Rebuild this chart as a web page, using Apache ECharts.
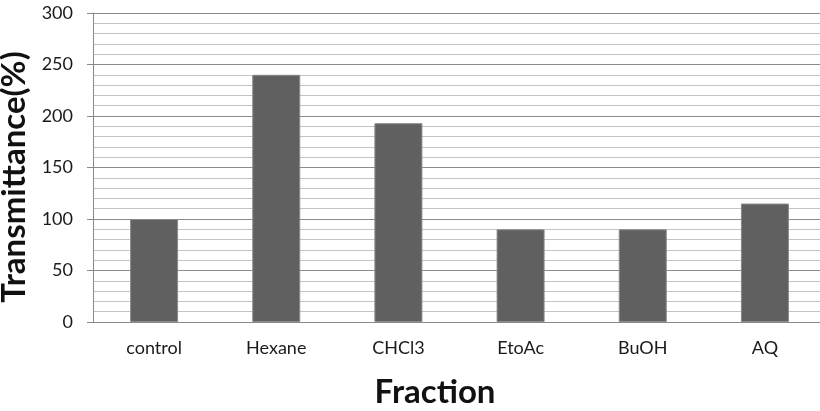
<!DOCTYPE html>
<html>
<head>
<meta charset="utf-8">
<script src="https://cdn.jsdelivr.net/npm/echarts@6/dist/echarts.min.js"></script>
<style>
  html, body { margin: 0; padding: 0; background: #ffffff; }
  #chart { width: 820px; height: 411px; }
</style>
</head>
<body>
<div id="chart"></div>
<script>
// Fractions tested and their transmittance (%)
const fractions = ['control', 'Hexane', 'CHCl3', 'EtoAc', 'BuOH', 'AQ'];
const transmittance = [100, 240, 193, 90, 90, 115];
const yTicks = [0, 50, 100, 150, 200, 250, 300];

const chart = echarts.init(document.getElementById('chart'), null, { renderer: 'canvas' });

const fontFamily = 'Lato, "Open Sans", sans-serif';

chart.setOption({
  animation: false,
  backgroundColor: '#ffffff',
  grid: {
    left: 93, top: 13, right: -6, bottom: 89,
    containLabel: false,
    outerBoundsMode: 'none'
  },
  xAxis: {
    type: 'category',
    data: fractions,
    name: 'Fraction',
    nameLocation: 'middle',
    nameGap: 54,
    nameTextStyle: {
      fontFamily, fontSize: 33, fontWeight: 'bold', color: '#111',
      padding: [0, 49, 0, 0]
    },
    axisLine: { show: true, lineStyle: { color: '#888888', width: 1 } },
    axisTick: { show: false },
    axisLabel: { fontFamily, fontSize: 18, color: '#1a1a1a', margin: 17 },
    splitLine: { show: false }
  },
  yAxis: {
    type: 'value',
    min: yTicks[0],
    max: yTicks[yTicks.length - 1],
    interval: 50,
    name: 'Transmittance(%)',
    nameLocation: 'middle',
    nameGap: 55,
    nameTextStyle: {
      fontFamily, fontSize: 33, fontWeight: 'bold', color: '#111',
      padding: [0, 19, 0, 0]
    },
    axisLine: { show: true, lineStyle: { color: '#888888', width: 1 } },
    axisTick: { show: true, length: 6, lineStyle: { color: '#888888' } },
    axisLabel: { fontFamily, fontSize: 18, color: '#1a1a1a', margin: 20 },
    splitLine: { show: true, lineStyle: { color: '#8c8c8c', width: 1 } },
    minorTick: { show: false, splitNumber: 5 },
    minorSplitLine: { show: true, lineStyle: { color: '#c4c4c4', width: 1 } }
  },
  series: [{
    type: 'bar',
    data: transmittance,
    barWidth: 48,
    itemStyle: { color: '#606060', borderColor: '#8a8a8a', borderWidth: 1 },
    z: 3
  }]
});
</script>
</body>
</html>
